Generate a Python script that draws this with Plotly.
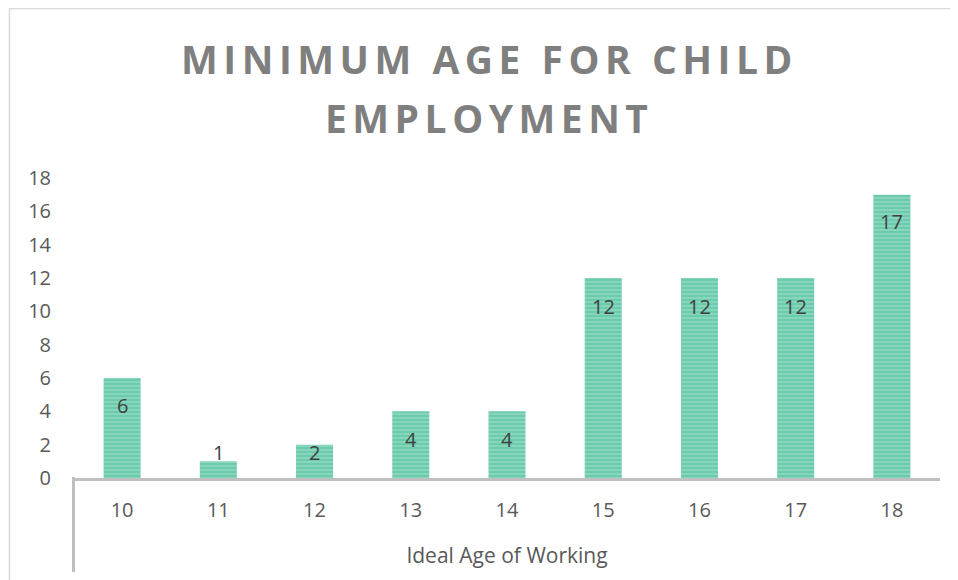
import plotly.graph_objects as go

categories = ["10", "11", "12", "13", "14", "15", "16", "17", "18"]
counts = [6, 1, 2, 4, 4, 12, 12, 12, 17]
label_shift = [-27, 9, -8, -28, -28, -28, -28, -28, -27]
y_ticks = [0, 2, 4, 6, 8, 10, 12, 14, 16, 18]

title_line1 = "MINIMUM AGE FOR CHILD"
title_line2 = "EMPLOYMENT"
x_title = "Ideal Age of Working"

FONT = "Open Sans"
GRAY = "#595959"
AXIS = "#bfbfbf"

# page body has an 8px margin; work in reference pixel coords minus offset
OFF = 8
W, H = 958 - OFF, 580 - OFF

fig = go.Figure()
fig.add_trace(go.Bar(
    x=categories, y=counts,
    marker=dict(
        color="#a2dfcb",
        line=dict(width=0),
        pattern=dict(shape="-", fgcolor="#36b88f", bgcolor="#a2dfcb",
                     size=4, solidity=0.75),
    ),
    hoverinfo="x+y",
))

annotations = []
for i, (v, s) in enumerate(zip(counts, label_shift)):
    annotations.append(dict(x=i, y=v, xref="x", yref="y", text=str(v),
                            showarrow=False, yshift=s,
                            font=dict(family=FONT, size=20, color="#404040")))

plot_l, plot_r, plot_t, plot_b = 74 - OFF, 940 - OFF, 178 - OFF, 478 - OFF
pw = plot_r - plot_l
ph = plot_b - plot_t

def px_x(px):
    return (px - OFF - plot_l) / pw

def px_y(py):
    return (plot_b - (py - OFF)) / ph

span = '<span style="letter-spacing:5.5px">{}</span>'
for line, yc in ((title_line1, 59), (title_line2, 117)):
    annotations.append(dict(x=px_x(489), y=px_y(yc), xref="paper", yref="paper",
                            text="<b>" + span.format(line) + "</b>", showarrow=False,
                            xanchor="center", yanchor="middle",
                            font=dict(family=FONT, size=39, color="#7f7f7f")))

shapes = [
    # chart frame (top and left edges)
    dict(type="line", xref="paper", yref="paper", x0=px_x(9), x1=px_x(970),
         y0=px_y(8.6), y1=px_y(8.6), line=dict(color="#d9d9d9", width=1.5)),
    dict(type="line", xref="paper", yref="paper", x0=px_x(9.5), x1=px_x(9.5),
         y0=px_y(8), y1=px_y(590), line=dict(color="#d9d9d9", width=1.5)),
    # vertical axis line continuing below
    dict(type="line", xref="paper", yref="paper", x0=px_x(73.5), x1=px_x(73.5),
         y0=px_y(477), y1=px_y(572), line=dict(color=AXIS, width=3)),
]

fig.update_layout(
    width=W, height=H,
    margin=dict(l=plot_l, r=W - plot_r, t=plot_t, b=H - plot_b),
    paper_bgcolor="white", plot_bgcolor="white",
    bargap=0.615,
    showlegend=False,
    annotations=annotations,
    shapes=shapes,
    font=dict(family=FONT, color=GRAY, size=20),
    xaxis=dict(
        type="category", range=[-0.5, len(categories) - 0.5],
        showline=True, linecolor=AXIS, linewidth=3,
        ticks="", showgrid=False,
        ticklabelstandoff=12,
        tickfont=dict(family=FONT, size=20, color=GRAY),
        title=dict(text=x_title, standoff=27,
                   font=dict(family=FONT, size=21, color=GRAY)),
    ),
    yaxis=dict(
        range=[0, 18], tickvals=y_ticks,
        showline=False, showgrid=False, zeroline=False, ticks="",
        ticklabelstandoff=22,
        tickfont=dict(family=FONT, size=20, color=GRAY),
    ),
)

fig.write_html("out.html")
